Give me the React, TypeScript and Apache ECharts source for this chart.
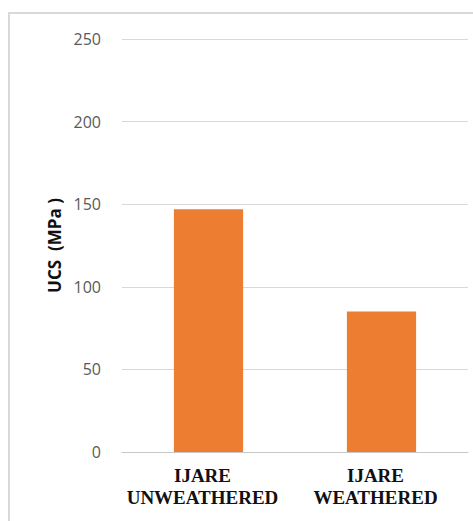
import React, { useEffect, useRef } from "react";
import * as echarts from "echarts";

// Uniaxial compressive strength of the two IJARE samples
const categories = ["IJARE\nUNWEATHERED", "IJARE\nWEATHERED"];
const ucsValues = [147, 85];
const yTicks = { min: 0, max: 250, interval: 50 };

export default function App() {
  const ref = useRef<HTMLDivElement>(null);

  useEffect(() => {
    if (!ref.current) return;
    const chart = echarts.init(ref.current, null, { renderer: "svg" });
    chart.setOption({
      animation: false,
      backgroundColor: "#ffffff",
      graphic: [
        {
          type: "rect",
          shape: { x: 9, y: 13, width: 600, height: 700 },
          style: { fill: "none", stroke: "#d9d9d9", lineWidth: 2 },
          silent: true,
        },
      ],
      grid: { left: 122, right: 5, top: 39, bottom: 69 },
      xAxis: {
        type: "category",
        data: categories,
        axisLine: { show: true, lineStyle: { color: "#c8c8c8", width: 1 } },
        axisTick: { show: false },
        axisLabel: {
          color: "#111111",
          fontFamily: "'Liberation Serif', 'Times New Roman', serif",
          fontWeight: "bold",
          fontSize: 19,
          lineHeight: 22,
          margin: 12,
          padding: [0, 12, 0, 0],
          interval: 0,
        },
      },
      yAxis: {
        type: "value",
        min: yTicks.min,
        max: yTicks.max,
        interval: yTicks.interval,
        name: "UCS  (MPa )",
        nameLocation: "middle",
        nameGap: 57,
        nameRotate: 90,
        nameTextStyle: {
          color: "#111111",
          fontFamily: "'Open Sans', sans-serif",
          fontWeight: "bold",
          fontSize: 17,
        },
        axisLine: { show: false },
        axisTick: { show: false },
        axisLabel: {
          color: "#595959",
          fontFamily: "'Open Sans', sans-serif",
          fontSize: 16,
          margin: 21,
        },
        splitLine: { lineStyle: { color: "#d9d9d9", width: 1 } },
      },
      series: [
        {
          type: "bar",
          data: ucsValues,
          barWidth: "40%",
          itemStyle: { color: "#ed7d31" },
        },
      ],
    });
    return () => chart.dispose();
  }, []);

  return (
    <div
      ref={ref}
      style={{ position: "fixed", left: 0, top: 0, width: 473, height: 521 }}
    />
  );
}
